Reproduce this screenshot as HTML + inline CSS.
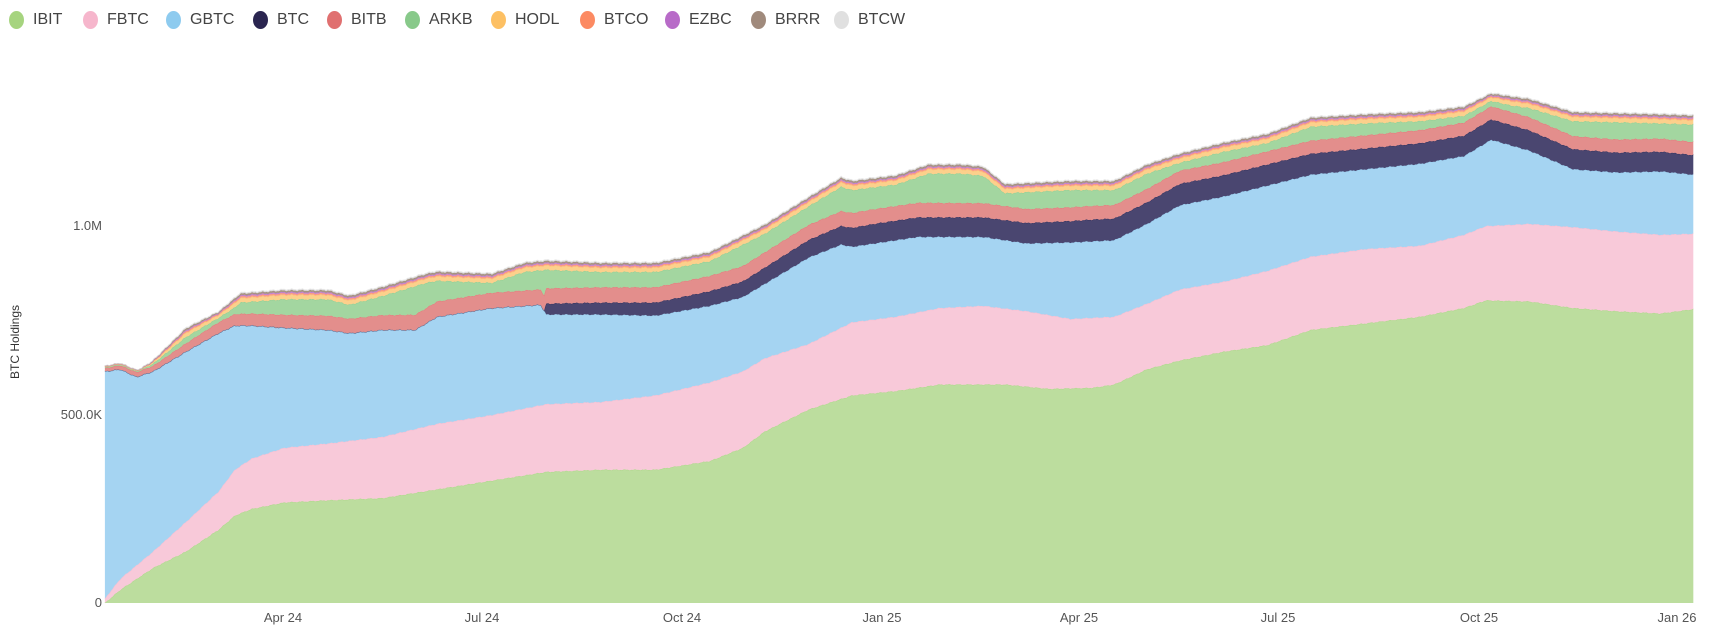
<!DOCTYPE html>
<html><head><meta charset="utf-8"><style>
body{margin:0;background:#fff;font-family:"Liberation Sans",sans-serif;}
#w{position:relative;width:1713px;height:632px;overflow:hidden;background:#fff}
.lg{position:absolute;top:11px;font-size:16px;color:#444;display:flex;align-items:center}
.lg i{display:inline-block;width:15px;height:18px;border-radius:50%;margin-right:9px}
.t{position:absolute;font-size:13px;color:#555}
</style></head><body><div id="w">
<svg id="s" width="1713" height="632" style="position:absolute;left:0;top:0"></svg>
<div id="leg"></div>
<div class="t" style="left:55px;top:218px;width:47px;text-align:right">1.0M</div>
<div class="t" style="left:45px;top:407px;width:57px;text-align:right">500.0K</div>
<div class="t" style="left:55px;top:595px;width:47px;text-align:right">0</div>
<div class="t" style="left:-30px;top:335px;width:90px;text-align:center;transform:rotate(-90deg);font-size:12px;color:#333">BTC Holdings</div>
</div>
<script>
var names=["IBIT","FBTC","GBTC","BTC","BITB","ARKB","HODL","BTCO","EZBC","BRRR","BTCW"];
var dots=["#a6d47f","#f6b6cc","#8ecbef","#2a2550","#e07070","#88c98a","#fdc063","#fc8a62","#b86bc8","#a08a7c","#e0e0e0"];
var fills=["#bcdd9e","#f8c9d9","#a5d4f2","#4a4670","#e38e8c","#a3d6a0","#fcd08c","#fca08a","#c98bd4","#a89585","#ddd"];
var lx=[16,90,173,260,334,412,498,587,672,758,841];
var h="";for(var i=0;i<11;i++)h+='<div class="lg" style="left:'+(lx[i]-7)+'px"><i style="background:'+dots[i]+'"></i>'+names[i]+'</div>';
document.getElementById("leg").innerHTML=h;
function P(a){var r=[];for(var i=0;i<a.length;i+=2)r.push([a[i],a[i+1]]);return r;}
function f(p,x){if(x<=p[0][0])return p[0][1];for(var i=1;i<p.length;i++)if(x<=p[i][0]){var t=(x-p[i-1][0])/(p[i][0]-p[i-1][0]);return p[i-1][1]+t*(p[i][1]-p[i-1][1]);}return p[p.length-1][1];}
var ib=P([96,552,110,540,140,520,170,505,200,485,215,472,230,466,260,460,300,458,350,456,400,448,450,440,500,432,550,430,600,430,650,422,680,410,700,395,740,375,780,362,820,358,860,352,920,352,960,356,1000,355,1020,352,1050,338,1080,330,1120,322,1160,316,1200,302,1250,296,1300,290,1340,282,1360,275,1400,276,1440,282,1480,285,1520,287,1550,283]);
var fb=P([96,548,110,530,140,505,170,478,200,450,215,430,230,420,260,410,300,406,350,400,400,388,450,380,500,370,550,368,600,362,650,350,680,340,700,328,740,315,780,295,820,290,860,282,900,280,940,285,980,292,1020,290,1050,278,1080,265,1120,258,1160,248,1200,235,1250,228,1300,225,1340,215,1360,207,1400,205,1440,208,1480,212,1520,215,1550,214]);
var gb=P([96,340,110,338,125,345,140,340,170,322,200,305,215,298,230,298,260,300,300,302,320,305,350,302,380,302,400,290,450,282,495,279,500,288,550,288,600,289,650,280,680,272,700,260,740,236,770,224,780,226,820,220,840,217,860,217,900,217,920,220,940,223,980,222,1020,220,1050,205,1080,188,1120,180,1160,170,1200,160,1250,155,1300,150,1340,143,1365,128,1400,138,1440,155,1480,158,1520,157,1550,160]);
var bt=P([96,0,498,0,500,10,600,12,700,15,800,18,900,18,1000,20,1550,18]);
var bi=P([96,3,140,5,200,10,300,13,400,14,700,14,900,13,1100,12,1550,12]);
var tp=P([96,335,110,333,125,340,140,330,170,300,200,285,220,268,260,265,300,265,320,270,350,262,390,250,400,248,450,250,480,240,500,238,550,240,600,240,650,230,700,205,740,180,770,162,780,165,820,160,850,150,880,150,900,152,920,168,940,167,980,165,1020,165,1050,150,1080,140,1120,130,1160,122,1200,107,1250,104,1300,102,1340,97,1365,85,1400,90,1440,102,1480,103,1520,104,1550,105]);
var K=1713/1568,xs=[],tops=[];for(var i=0;i<11;i++)tops.push([]);
for(var x=96;x<=1550;x+=1){var n=Math.sin(x*0.7)*0.6+Math.sin(x*1.9)*0.4;
var y=[f(ib,x),f(fb,x),f(gb,x)];
y[0]=Math.min(y[0]+n*0.5,552);y[1]=Math.min(y[1]+n*0.5,y[0]);y[2]=Math.min(y[2]+n*0.6,y[1]);
var c=y[2];c-=f(bt,x);y.push(c);c-=f(bi,x);y.push(c);
var T=Math.min(f(tp,x)+n*0.7,c-2);var r=c-T;
var sm=Math.min(9,r*0.6);var ark=r-sm;c-=ark;y.push(c);
var fr=[.45,.15,.12,.18,.1];
for(var k=0;k<5;k++){c-=sm*fr[k];y.push(c);}
xs.push(x*K);for(var k=0;k<11;k++)tops[k].push(y[k]*K);}
var base=552*K,svg="";
for(var k=0;k<11;k++){var d="M"+xs[0]+","+tops[k][0];for(var j=1;j<xs.length;j++)d+="L"+xs[j].toFixed(1)+","+tops[k][j].toFixed(1);
var lower=k==0?null:tops[k-1];var d2=d;
if(lower){for(var j=xs.length-1;j>=0;j--)d2+="L"+xs[j].toFixed(1)+","+lower[j].toFixed(1);}else{d2+="L"+xs[xs.length-1]+","+base+"L"+xs[0]+","+base;}
svg+='<path d="'+d2+'Z" fill="'+fills[k]+'"/><path d="'+d+'" fill="none" stroke="'+dots[k]+'" stroke-opacity="0.6" stroke-width="1"/>';}
var lb=[["Apr 24",283],["Jul 24",482],["Oct 24",682],["Jan 25",882],["Apr 25",1079],["Jul 25",1278],["Oct 25",1479],["Jan 26",1677]];
for(var i=0;i<lb.length;i++)svg+='<text x="'+lb[i][1]+'" y="622" font-size="13" fill="#555" text-anchor="middle" font-family="Liberation Sans">'+lb[i][0]+'</text>';
document.getElementById("s").innerHTML=svg;
</script></body></html>
